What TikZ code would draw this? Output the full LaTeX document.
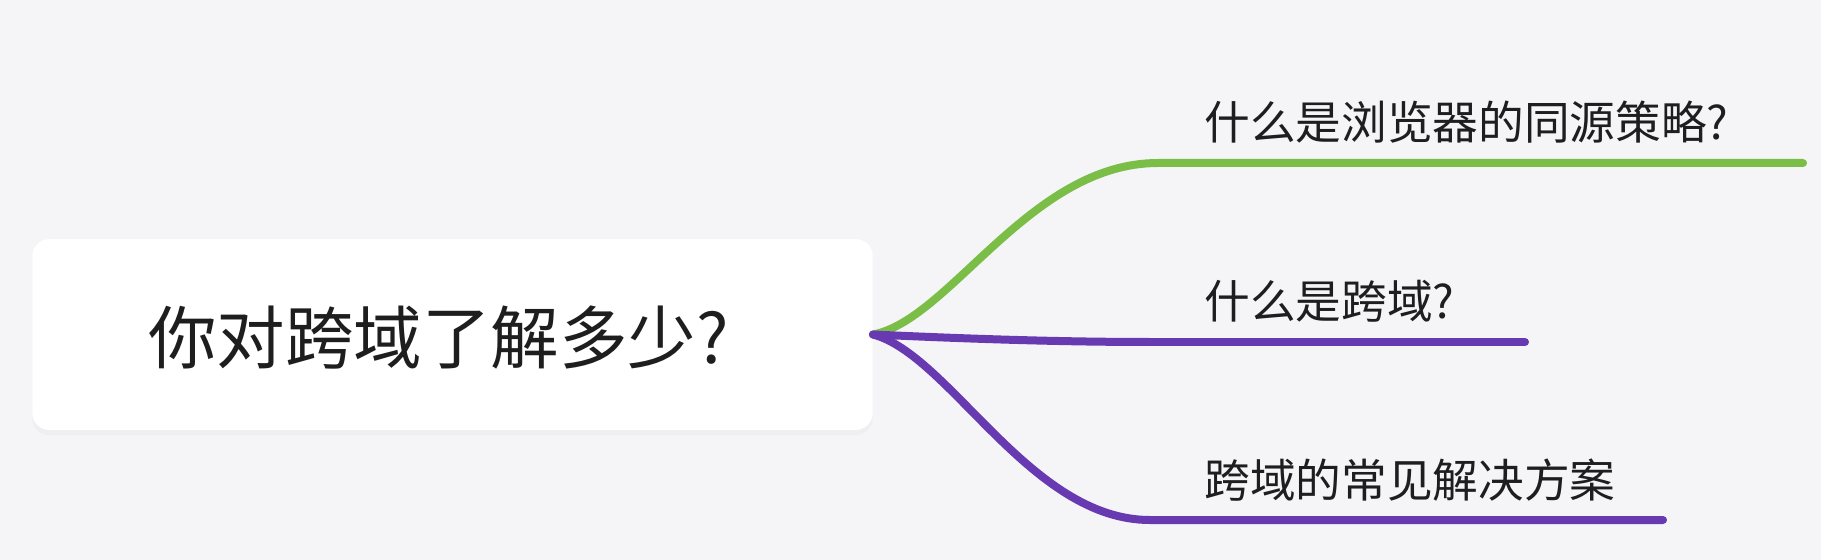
\documentclass[tikz,border=0pt]{standalone}
\usepackage{fontspec}
\newfontfamily\cjk{Noto Sans CJK SC}
\usetikzlibrary{shadows}
\definecolor{bggray}{RGB}{245,245,248}
\definecolor{branchgreen}{RGB}{122,190,72}
\definecolor{branchpurple}{RGB}{104,58,178}
\definecolor{textgray}{RGB}{30,30,30}

\begin{document}
\begin{tikzpicture}[line cap=round,line join=round,x=0.02cm,y=0.02cm,
  rootbox/.style={draw=none,fill=white,rounded corners=0.34cm,minimum width=16.81cm,minimum height=3.82cm,inner sep=0pt,drop shadow={opacity=0.05,shadow xshift=0pt,shadow yshift=-3pt}},
  roottext/.style={inner sep=0pt,text=textgray,font=\cjk\fontsize{39pt}{44pt}\selectfont},
  leaf/.style={anchor=base west,inner sep=0pt,text=textgray,font=\cjk\fontsize{26pt}{30pt}\selectfont},
  greenbranch/.style={draw=branchgreen,line width=0.16cm},
  purplebranch/.style={draw=branchpurple,line width=0.16cm}]
\fill[bggray] (0, 0) rectangle (1821, -560);
\useasboundingbox (0, 0) rectangle (1821, -560);

\node[rootbox] (root) at (452.5, -334.5) {};
\node[roottext] (rootlabel) at (438.5, -338) {你对跨域了解多少?};

\node[leaf] (q1) at (1204, -140) {什么是浏览器的同源策略?};

\node[leaf] (q2) at (1204, -318) {什么是跨域?};

\node[leaf] (q3) at (1204, -497) {跨域的常见解决方案};

\coordinate (k1) at (1158, -163);
\coordinate (e1) at (1803, -163);
\coordinate (k2) at (1150, -342);
\coordinate (e2) at (1525, -342);
\coordinate (k3) at (1150, -520);
\coordinate (e3) at (1663, -520);

\draw[greenbranch] (root.east) .. controls (950, -320) and (1030, -163) .. (k1) -- (e1);
\draw[purplebranch] (root.east) .. controls (950, -338) and (1050, -342) .. (k2) -- (e2);
\draw[purplebranch] (root.east) .. controls (950, -355) and (1030, -520) .. (k3) -- (e3);

\end{tikzpicture}
\end{document}
